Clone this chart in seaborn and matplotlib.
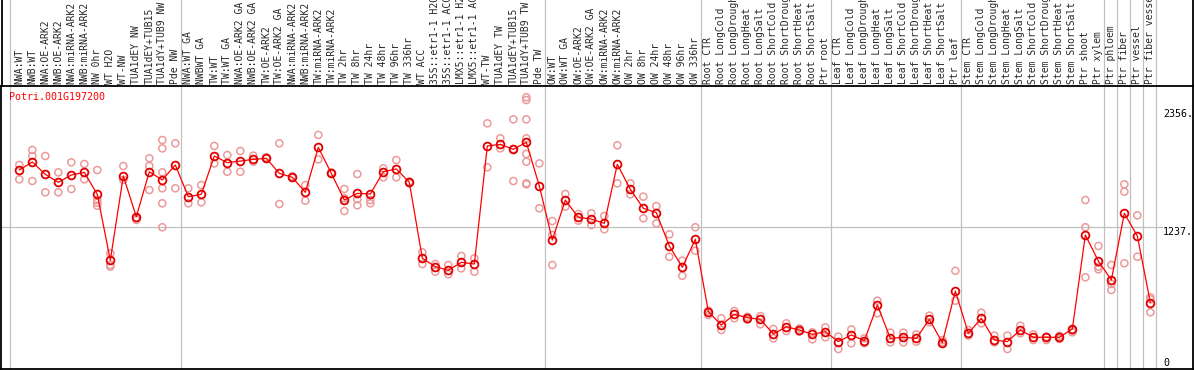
import matplotlib
matplotlib.use("Agg")
import matplotlib.pyplot as plt
from matplotlib.lines import Line2D
import seaborn as sns
import pandas as pd

categories = [
    "NWA:WT", "NWB:WT", "NWA:OE-ARK2", "NWB:OE-ARK2", "NWA:miRNA-ARK2", "NWB:miRNA-ARK2",
    "NW 0hr", "WT H2O", "WT-NW", "TUA1dEY NW", "TUA1dEY+TUB15", "TUA1dY+TUB9 NW", "Pde NW",
    "NWA:WT GA", "NWBWT GA", "TW:WT", "TW:WT GA", "NWA:OE-ARK2 GA", "NWB:OE-ARK2 GA",
    "TW:OE-ARK2", "TW:OE-ARK2 GA", "NWA:miRNA-ARK2", "NWB:miRNA-ARK2", "TW:miRNA-ARK2",
    "TW:miRNA-ARK2", "TW 2hr", "TW 8hr", "TW 24hr", "TW 48hr", "TW 96hr", "TW 336hr",
    "WT ACC", "35S::etr1-1 H2O", "35S::etr1-1 ACC", "LMX5::etr1-1 H2O", "LMX5::etr1-1 ACC",
    "WT-TW", "TUA1dEY TW", "TUA1dEY+TUB15", "TUA1dY+TUB9 TW", "Pde TW",
    "OW:WT", "OW:WT GA", "OW:OE-ARK2", "OW:OE-ARK2 GA", "OW:miRNA-ARK2", "OW:miRNA-ARK2",
    "OW 2hr", "OW 8hr", "OW 24hr", "OW 48hr", "OW 96hr", "OW 336hr",
    "Root CTR", "Root LongCold", "Root LongDrought", "Root LongHeat", "Root LongSalt",
    "Root ShortCold", "Root ShortDrought", "Root ShortHeat", "Root ShortSalt", "Ptr root",
    "Leaf CTR", "Leaf LongCold", "Leaf LongDrought", "Leaf LongHeat", "Leaf LongSalt",
    "Leaf ShortCold", "Leaf ShortDrought", "Leaf ShortHeat", "Leaf ShortSalt", "Ptr leaf",
    "Stem CTR", "Stem LongCold", "Stem LongDrought", "Stem LongHeat", "Stem LongSalt",
    "Stem ShortCold", "Stem ShortDrought", "Stem ShortHeat", "Stem ShortSalt",
    "Ptr shoot", "Ptr xylem", "Ptr phloem", "Ptr fiber", "Ptr vessel", "Ptr fiber vessel",
]

means = [
    1780, 1856, 1739, 1664, 1733, 1758, 1550, 925, 1723, 1338, 1764, 1686, 1828,
    1528, 1550, 1913, 1850, 1865, 1881, 1891, 1749, 1711, 1569, 1995, 1749, 1496,
    1559, 1553, 1764, 1790, 1664,
    944, 865, 830, 906, 890, 2008, 2023, 1976, 2042, 1629,
    1117, 1496, 1332, 1316, 1275, 1834, 1597, 1418, 1376, 1061, 859, 1124,
    439, 312, 413, 382, 366, 227, 296, 265, 224, 249,
    155, 218, 164, 502, 186, 196, 186, 366, 145, 634,
    234, 376, 170, 155, 265, 196, 196, 196, 275,
    1165, 918, 739, 1370, 1155, 524,
]

replicates = [
    [1828, 1692], [1970, 1913, 1676], [1913, 1569], [1758, 1569], [1853, 1600],
    [1837, 1692], [1780, 1496, 1471, 1442], [991, 881, 865], [1818, 1686], [1323, 1307],
    [1891, 1818, 1591], [2064, 1985, 1758, 1607, 1465, 1238], [2033, 1607],
    [1607, 1465], [1638, 1474], [2008, 1843], [1922, 1764], [1960, 1764], [1916, 1859],
    [1900, 1890], [2033, 1458], [1720, 1705], [1638, 1490], [2112, 1881], [1755, 1745],
    [1600, 1512, 1392], [1742, 1503, 1446], [1496, 1465], [1796, 1711], [1875, 1711],
    [1670, 1655],
    [1001, 890], [890, 817], [881, 793], [966, 849], [944, 817], [2222, 1806],
    [2080, 1985], [2260, 1979, 1676], [2469, 2443, 2260, 2080, 1932, 1859, 1654, 1645],
    [1843, 1418],
    [1297, 1165, 881], [1553, 1433], [1364, 1301], [1370, 1259], [1345, 1219],
    [2014, 1654], [1654, 1550], [1528, 1323], [1439, 1275], [1171, 959], [922, 779],
    [1238, 1016],
    [407, 450], [376, 265], [445, 376], [363, 390], [397, 319], [275, 186], [328, 256],
    [280, 250], [243, 177], [290, 196],
    [202, 85], [271, 139], [186, 139], [543, 423], [240, 148], [240, 148], [224, 155],
    [401, 338], [170, 150], [826, 543],
    [265, 212], [429, 328], [212, 148], [212, 85], [306, 234], [224, 170], [170, 200],
    [180, 210], [243, 260],
    [1496, 1238, 764], [1061, 865, 840], [881, 701, 644], [1645, 1575, 897],
    [1351, 959], [575, 556, 433],
]

gene_name = "Potri.001G197200"
ytick_values = [2356, 1237, 0]
ytick_labels = ["2356.", "1237.", "0"]
group_ends = [-1.1, 12, 40, 52, 62, 72, 83, 84, 85, 86, 87]

mean_df = pd.DataFrame({"idx": range(len(categories)), "value": means})
rep_df = pd.DataFrame(
    [(i, v) for i, reps in enumerate(replicates) for v in reps],
    columns=["idx", "value"],
)

sns.set_style("white")
plt.rcParams["font.family"] = ["DejaVu Sans Mono", "DejaVu Sans"]

W, H = 1194, 370
fig = plt.figure(figsize=(W / 100, H / 100), dpi=100)
ax = fig.add_axes([1 / W, 1 - 369 / H, 1192 / W, 283 / H])

# Layout geometry
ax.set_xlim(-1.408, 90.28)
ax.set_ylim(-104.2, 2575.8)

grid_c = "#c0c0c0"
for g in group_ends:
    ax.axvline(g + 0.4, ymin=0, ymax=1.31, color=grid_c, lw=0.9, clip_on=False, zorder=0)
ax.axhline(1237, xmin=0, xmax=0.974, color=grid_c, lw=0.9, zorder=0)

sns.scatterplot(
    data=rep_df, x="idx", y="value", ax=ax, marker="o", s=26,
    facecolors="none", edgecolor="#eb9a9a", linewidth=1.1, zorder=2, legend=False,
)
sns.lineplot(
    data=mean_df, x="idx", y="value", ax=ax, color="#ff0000", lw=0.9,
    marker="o", markersize=5.6, markerfacecolor="none", markeredgecolor="#e00000",
    markeredgewidth=1.3, zorder=3, legend=False,
)

ax.xaxis.tick_top()
ax.set_xticks(range(len(categories)))
ax.set_xticklabels(categories, rotation=90, fontsize=7, family="DejaVu Sans Mono")
ax.tick_params(axis="x", length=0, pad=1.8, top=True, bottom=False,
               labeltop=True, labelbottom=False)
ax.set_yticks([])
ax.set_xlabel("")
ax.set_ylabel("")

for v, lab in zip(ytick_values, ytick_labels):
    ax.text((1163 - 1) / 1192, v, lab, transform=ax.get_yaxis_transform(),
            ha="left", va="top", fontsize=7.2, color="black", family="DejaVu Sans Mono")

ax.text(8 / 1192, 1 - 11 / 283, gene_name, transform=ax.transAxes, ha="left",
        va="center", fontsize=7.2, color="#ff0000", family="DejaVu Sans Mono")

for sp in ax.spines.values():
    sp.set_color("black")
    sp.set_linewidth(1.3)

# header borders (left / right edges through label band)
for xf in (1.5 / W, 1193 / W):
    fig.add_artist(Line2D([xf, xf], [1 - 86 / H, 1.0], transform=fig.transFigure,
                          color="black", lw=1.3))

fig.savefig("out.png", dpi=100)
